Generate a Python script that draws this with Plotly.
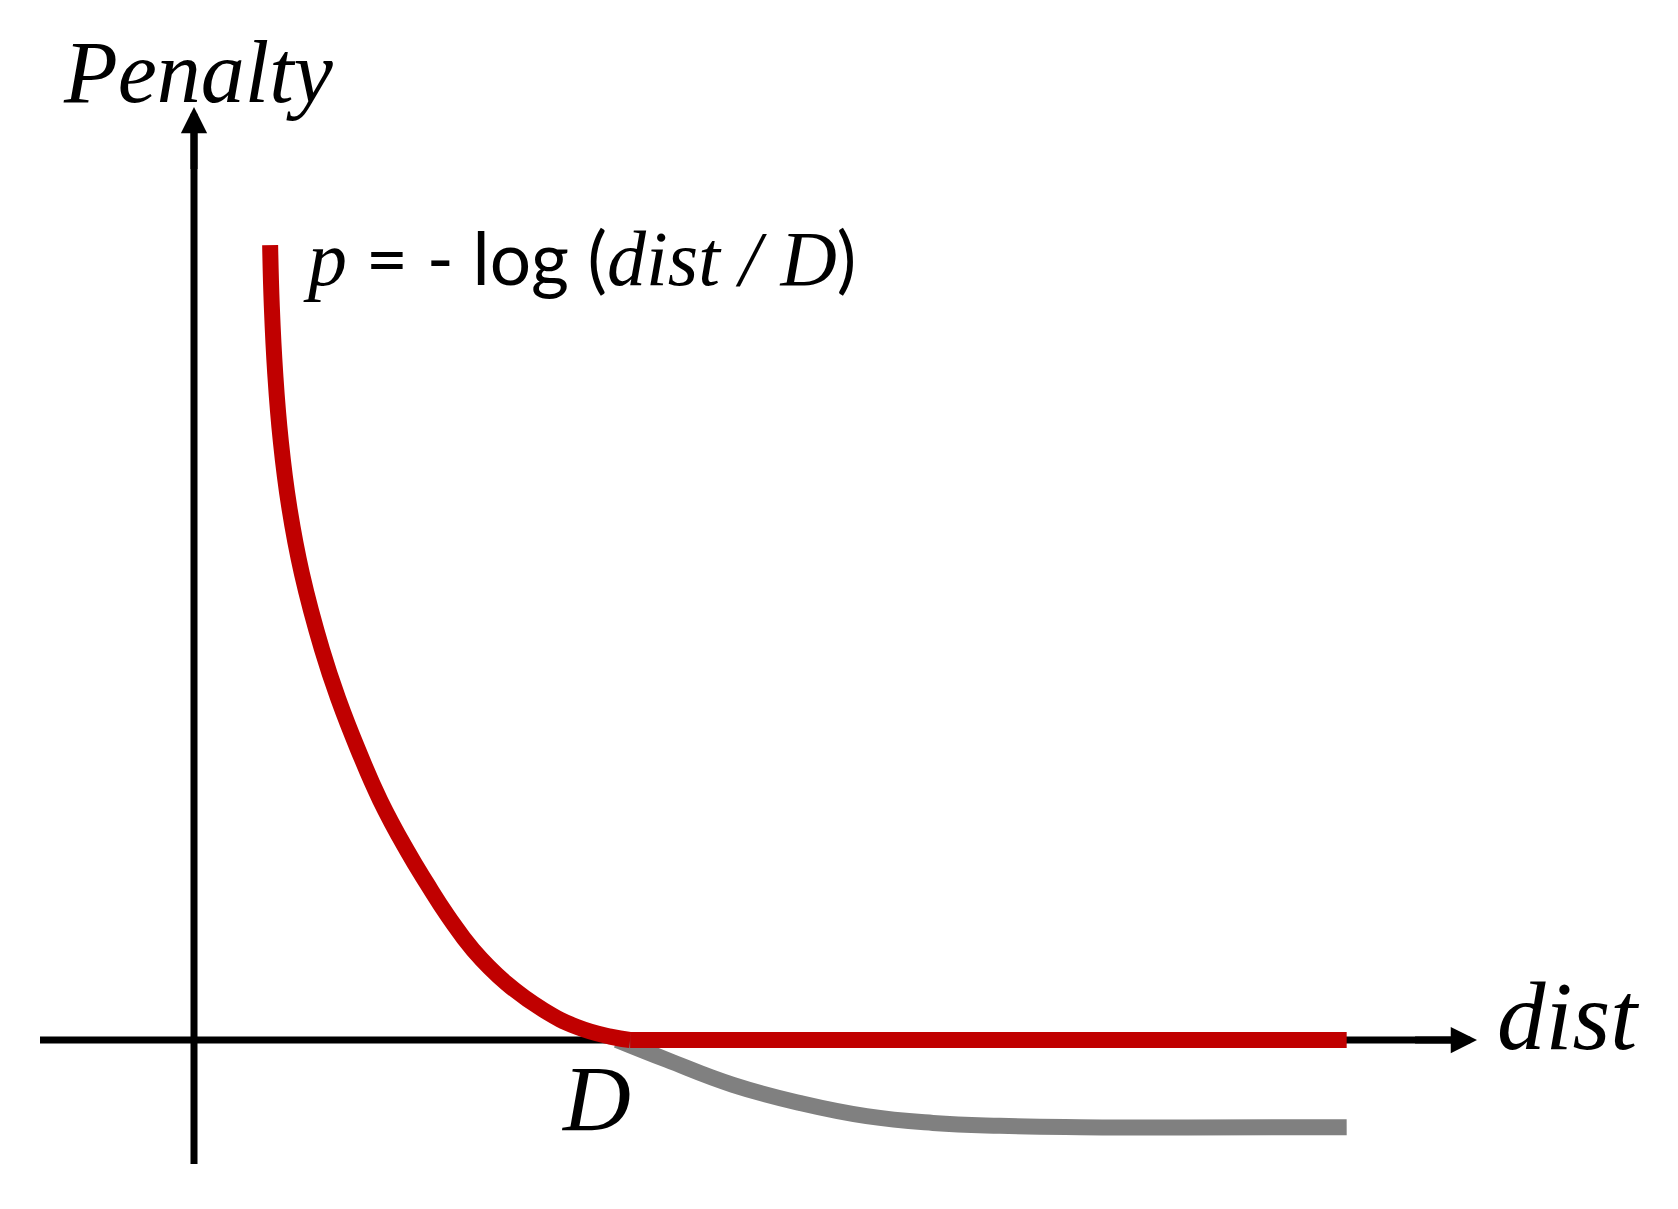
import plotly.graph_objects as go

# ---- data (dist in units of D, penalty in the same units) ----
red_curve_dist = [0.180, 0.184, 0.192, 0.205, 0.225, 0.255, 0.303, 0.342, 0.388,
                  0.440, 0.503, 0.550, 0.601, 0.660, 0.739, 0.826, 0.905, 0.984, 1.031]
red_curve_pen = [1.879, 1.734, 1.576, 1.418, 1.261, 1.103, 0.922, 0.804, 0.686,
                 0.567, 0.449, 0.371, 0.292, 0.213, 0.134, 0.071, 0.031, 0.008, 0.0]
red_flat_dist = [1.031, 2.725]
red_flat_pen = [0.0, 0.0]
gray_dist = [1.0, 1.118, 1.274, 1.433, 1.590, 1.747, 1.905, 2.095, 2.725]
gray_pen = [0.0, -0.047, -0.106, -0.149, -0.180, -0.196, -0.203, -0.206, -0.206]

SERIF_SPAN = '<span style="font-family:Liberation Serif;font-size:78px">'
formula_label = ('<i>' + SERIF_SPAN + 'p</span></i>'
                 ' = - log (<i>' + SERIF_SPAN + 'dist / D</span></i>)')

# ---- layout geometry ----
PAGE_W, PAGE_H = 1678, 1209
BODY = 8                       # default page body margin
W, H = PAGE_W - 2 * BODY, PAGE_H - 2 * BODY
UNIT = 423.0                   # pixels per unit
OX, OY = 194.0, 1040.0         # page pixel position of the origin
x_range = [(BODY - OX) / UNIT, (PAGE_W - BODY - OX) / UNIT]
y_range = [(OY - (PAGE_H - BODY)) / UNIT, (OY - BODY) / UNIT]

x_axis_start, x_axis_tip = (40 - OX) / UNIT, (1477 - OX) / UNIT
y_axis_start, y_axis_tip = (OY - 1164) / UNIT, (OY - 107) / UNIT

RED = "#C00000"
GRAY = "#808080"
LW = 16

fig = go.Figure()
fig.add_trace(go.Scatter(x=gray_dist, y=gray_pen, mode="lines",
                         line=dict(color=GRAY, width=LW, shape="spline", smoothing=1.3),
                         hoverinfo="skip"))
fig.add_trace(go.Scatter(x=red_curve_dist, y=red_curve_pen, mode="lines",
                         line=dict(color=RED, width=LW, shape="spline", smoothing=1.3),
                         hoverinfo="skip"))
fig.add_trace(go.Scatter(x=red_flat_dist, y=red_flat_pen, mode="lines",
                         line=dict(color=RED, width=LW),
                         hoverinfo="skip"))

# axis lines (below traces)
fig.add_shape(type="line", x0=x_axis_start, x1=x_axis_tip - 0.05, y0=0, y1=0,
              line=dict(color="black", width=7), layer="below")
fig.add_shape(type="line", x0=0, x1=0, y0=y_axis_start, y1=y_axis_tip - 0.05,
              line=dict(color="black", width=7), layer="below")

# arrow heads
fig.add_annotation(x=x_axis_tip, y=0, ax=x_axis_tip - 0.15, ay=0,
                   xref="x", yref="y", axref="x", ayref="y", text="",
                   showarrow=True, arrowhead=2, arrowwidth=7, arrowsize=0.75,
                   arrowcolor="black")
fig.add_annotation(x=0, y=y_axis_tip, ax=0, ay=y_axis_tip - 0.15,
                   xref="x", yref="y", axref="x", ayref="y", text="",
                   showarrow=True, arrowhead=2, arrowwidth=7, arrowsize=0.75,
                   arrowcolor="black")

serif = "Liberation Serif"
fig.add_annotation(x=0.01, y=2.288, text="<i>Penalty</i>", showarrow=False,
                   xanchor="center", yanchor="middle",
                   font=dict(family=serif, size=88, color="black"))
fig.add_annotation(x=3.076, y=0.055, text="<i>dist</i>", showarrow=False,
                   xanchor="left", yanchor="middle",
                   font=dict(family=serif, size=97, color="black"))
fig.add_annotation(x=0.950, y=-0.138, text="<i>D</i>", showarrow=False,
                   xanchor="center", yanchor="middle",
                   font=dict(family=serif, size=94, color="black"))
fig.add_annotation(x=0.253, y=1.849, text=formula_label, showarrow=False,
                   xanchor="left", yanchor="middle",
                   font=dict(family="Lato", size=73, color="black"))

fig.update_layout(
    width=W, height=H,
    margin=dict(l=0, r=0, t=0, b=0),
    paper_bgcolor="white", plot_bgcolor="white",
    showlegend=False,
    xaxis=dict(range=x_range, visible=False, fixedrange=True),
    yaxis=dict(range=y_range, visible=False, fixedrange=True),
)

fig.write_html("out.html")
